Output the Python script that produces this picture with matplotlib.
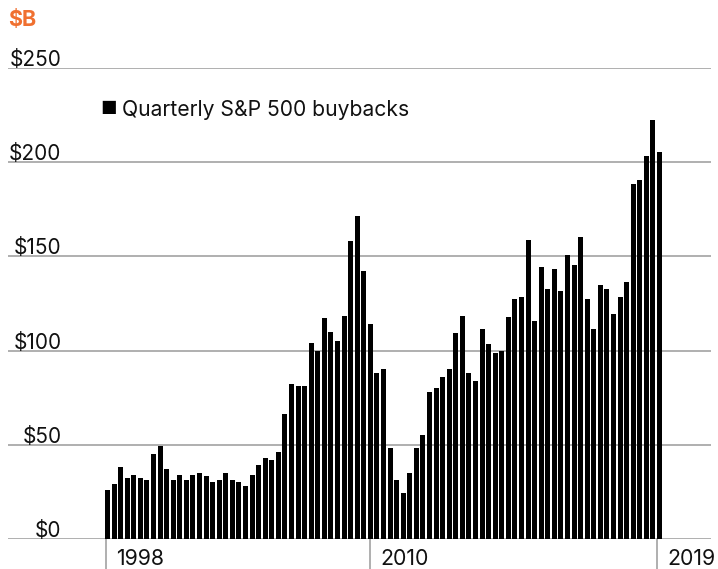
import matplotlib
matplotlib.use("Agg")
import matplotlib.pyplot as plt
from matplotlib.transforms import blended_transform_factory

plt.rcParams['font.family'] = ['Inter', 'DejaVu Sans']

# Quarterly S&P 500 buybacks, $B, 1998 Q1 .. 2019 Q1
buybacks = [
    25.8, 29.0, 38.1, 32.2, 33.8, 32.2, 31.1, 45.0, 49.3, 37.0,
    31.1, 33.8, 31.1, 33.8, 34.9, 33.3, 30.1, 31.1, 34.9, 31.1,
    30.1, 27.9, 33.8, 39.1, 42.9, 41.8, 46.1, 66.4, 82.3, 81.1,
    81.1, 103.9, 100.0, 117.1, 109.7, 104.9, 118.2, 158.0, 171.7, 142.0,
    114.0, 88.0, 90.1, 48.2, 31.3, 24.4, 35.0, 48.2, 55.1, 77.9,
    80.0, 85.9, 90.1, 109.2, 118.2, 88.0, 84.1, 111.6, 103.5, 98.8,
    99.8, 117.8, 127.4, 128.4, 158.7, 115.7, 144.3, 132.7, 143.3, 131.6,
    150.7, 145.4, 160.2, 127.4, 111.5, 134.8, 132.7, 119.4, 128.4, 136.4,
    188.3, 190.5, 203.2, 222.3, 205.3,
]
y_ticks = [0, 50, 100, 150, 200, 250]
y_tick_labels = ["$0", "$50", "$100", "$150", "$200", "$250"]
x_tick_pos = [-0.25, 39.95, 83.65]
x_tick_labels = ["1998", "2010", "2019"]
legend_label = "Quarterly S&P 500 buybacks"
unit_label = "$B"

W, H = 718, 569
fig = plt.figure(figsize=(W / 100, H / 100), dpi=100)
px_per_q = 6.571
c0 = 107.5
ax_left_px, ax_right_px = 8, 711
ax_bottom_px, ax_top_px = 539, 68
ax = fig.add_axes([ax_left_px / W, (H - ax_bottom_px) / H,
                   (ax_right_px - ax_left_px) / W, (ax_bottom_px - ax_top_px) / H])
ax.set_xlim((ax_left_px - c0) / px_per_q, (ax_right_px - c0) / px_per_q)
ax.set_ylim(0, 250)
for s in ax.spines.values():
    s.set_visible(False)
ax.set_xticks([])
ax.set_yticks([])
ax.patch.set_alpha(0)

for v in y_ticks:
    ax.axhline(v, color='#9a9a9a', lw=1.1, zorder=1)

xs = list(range(len(buybacks)))
ax.bar(xs, buybacks, width=0.76, color='black', zorder=3, label=legend_label)

# y labels, right aligned, sitting on gridlines
ytrans = blended_transform_factory(fig.transFigure, ax.transData)
for v, lab in zip(y_ticks, y_tick_labels):
    ax.text(61.5 / W, v + 1.1, lab, transform=ytrans, ha='right', va='baseline',
            fontsize=15, color='#111111', clip_on=False)

# x ticks: vertical lines below baseline
xtrans = blended_transform_factory(ax.transData, fig.transFigure)
for p, lab in zip(x_tick_pos, x_tick_labels):
    ax.plot([p, p], [(H - 539) / H, 0], transform=xtrans, color='#9a9a9a', lw=1.1,
            clip_on=False)
    ax.text(p + 10 / px_per_q, (H - 559) / H, lab, transform=xtrans, ha='left',
            va='center', fontsize=15.3, color='#111111')

# legend
fig.text(100.5 / W, (H - 110) / H, "\u25a0", fontsize=13, va='center', ha='left', color='black')
fig.text(122 / W, (H - 110) / H, legend_label, fontsize=15.2, va='center', ha='left', color='#111111')

fig.text(8 / W, (H - 20) / H, unit_label, fontsize=15.5, fontweight='bold', color='#f07030',
         va='center', ha='left')

fig.savefig('out.png', dpi=100)
